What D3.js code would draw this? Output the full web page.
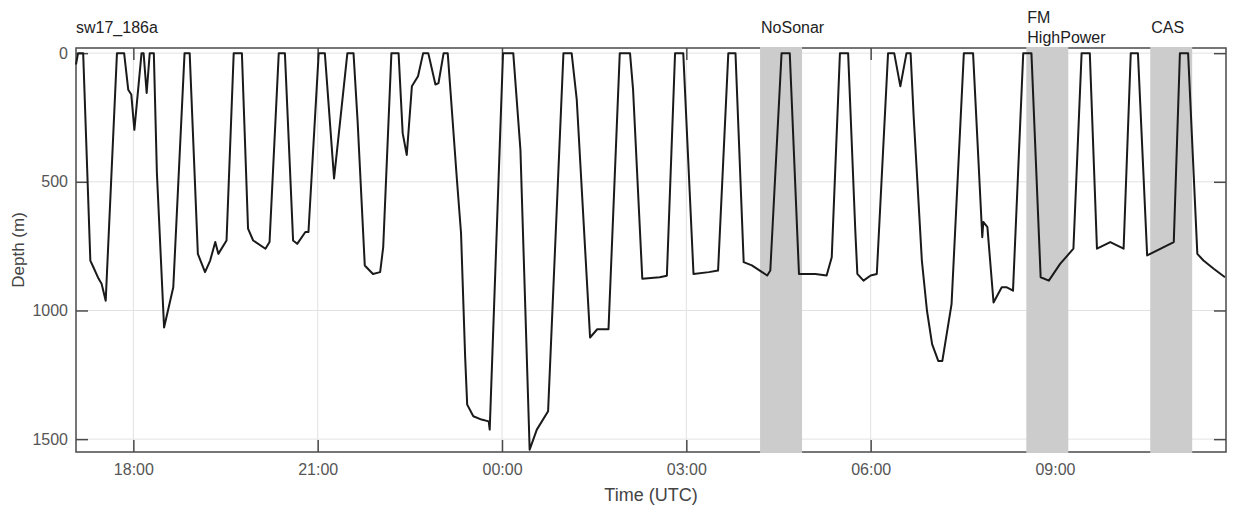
<!DOCTYPE html>
<html>
<head>
<meta charset="utf-8">
<script src="https://cdn.jsdelivr.net/npm/d3@7"></script>
<style>
  body { margin: 0; background: #fff; }
  text { font-family: "Liberation Sans", Arial, sans-serif; }
</style>
</head>
<body>
<div id="chart"></div>
<script>
// ---- données (profil de plongée sw17_186a) ----
// heures UTC, le passage à minuit est géré au parsing
const times = [
  "17:04","17:06","17:11","17:18","17:21","17:26","17:29","17:33","17:44","17:51",
  "17:55","17:58","18:01","18:08","18:10","18:13","18:16","18:20","18:23","18:30",
  "18:39","18:50","18:55","19:03","19:10","19:15","19:20","19:23","19:31","19:38",
  "19:46","19:52","19:57","20:09","20:13","20:22","20:28","20:36","20:40","20:48",
  "20:51","21:01","21:07","21:16","21:29","21:35","21:39","21:46","21:54","22:01",
  "22:04","22:12","22:19","22:23","22:27","22:32","22:38","22:43","22:48","22:55",
  "22:58","23:03","23:07","23:16","23:20","23:24","23:26","23:32","23:40","23:47",
  "23:48","00:01","00:11","00:18","00:27","00:34","00:45","01:00","01:08","01:13",
  "01:26","01:33","01:44","01:55","02:05","02:08","02:17","02:34","02:41","02:49",
  "02:57","03:07","03:22","03:31","03:41","03:48","03:56","04:04","04:14","04:19",
  "04:22","04:33","04:41","04:50","05:06","05:17","05:22","05:30","05:38","05:45",
  "05:47","05:53","06:00","06:06","06:17","06:23","06:29","06:35","06:39","06:42",
  "06:50","06:55","07:00","07:06","07:10","07:19","07:31","07:40","07:49","07:50",
  "07:54","08:00","08:08","08:13","08:19","08:29","08:37","08:46","08:54","09:05",
  "09:18","09:26","09:34","09:41","09:54","10:07","10:14","10:21","10:30","10:56",
  "11:02","11:10","11:19","11:25","11:35","11:46"
];
const depths = [
  44,0,0,806,832,876,896,962,0,0,
  142,161,298,0,0,155,0,0,466,1066,
  910,0,0,780,851,806,734,780,728,0,
  0,682,728,760,734,0,0,728,741,695,
  695,0,0,487,0,0,265,825,858,851,
  754,0,0,311,396,129,90,0,0,122,
  116,0,0,493,700,1180,1366,1411,1424,1431,
  1463,0,0,376,1541,1463,1392,0,0,181,
  1105,1073,1073,0,0,142,877,871,865,0,
  0,858,851,845,0,0,812,825,851,864,
  845,0,0,858,858,864,793,0,0,689,
  858,884,864,858,0,0,129,0,0,246,
  806,1001,1131,1196,1196,975,0,0,715,656,
  676,969,910,910,923,0,0,871,884,819,
  760,0,0,760,734,760,0,0,786,734,
  0,0,780,806,838,871
];

// périodes d'exposition (zones grisées)
const shadeLabels = [["NoSonar"], ["FM", "HighPower"], ["CAS"]];
const shadeStart = ["04:12", "08:32", "10:33"];
const shadeEnd = ["04:53", "09:13", "11:14"];

const yTicks = [0, 500, 1000, 1500];
const title = "sw17_186a";

// ---- dimensions ----
const width = 1233, height = 510;
const margin = {top: 48, right: 7, bottom: 58, left: 76};

const parseT = d3.utcParse("%Y-%m-%d %H:%M");
// conversion HH:MM -> date (jour suivant si heure < 17h)
function toDate(s) {
  const h = +s.split(":")[0];
  return parseT((h < 17 ? "2017-07-06 " : "2017-07-05 ") + s);
}

const data = times.map((t, i) => ({t: toDate(t), d: depths[i]}));

const x = d3.scaleUtc()
  .domain([toDate("17:04"), toDate("11:47")])
  .range([margin.left, width - margin.right]);

const y = d3.scaleLinear()
  .domain([-20, 1550])
  .range([margin.top, height - margin.bottom]);

const svg = d3.select("#chart").append("svg")
  .attr("width", width)
  .attr("height", height);

const x0 = margin.left, x1 = width - margin.right;
const y0 = margin.top, y1 = height - margin.bottom;
const hourTicks = x.ticks(d3.utcHour.every(3));

// grille
const grid = svg.append("g").attr("stroke", "#e2e2e2").attr("stroke-width", 1);
grid.selectAll(".gx").data(hourTicks).enter().append("line")
  .attr("x1", d => x(d)).attr("x2", d => x(d))
  .attr("y1", y0).attr("y2", y1);
grid.selectAll(".gy").data(yTicks).enter().append("line")
  .attr("x1", x0).attr("x2", x1)
  .attr("y1", d => y(d)).attr("y2", d => y(d));

// cadre + graduations vers l'intérieur (style matlab)
const axisCol = "#4a4a4a";
svg.append("rect")
  .attr("x", x0).attr("y", y0)
  .attr("width", x1 - x0).attr("height", y1 - y0)
  .attr("fill", "none").attr("stroke", axisCol).attr("stroke-width", 1.5);

const axB = svg.append("g").attr("transform", `translate(0,${y1})`)
  .call(d3.axisBottom(x).tickValues(hourTicks).tickFormat(d3.utcFormat("%H:%M")).tickSizeInner(-12).tickSizeOuter(0).tickPadding(12));
const axT = svg.append("g").attr("transform", `translate(0,${y0})`)
  .call(d3.axisTop(x).tickValues(hourTicks).tickFormat("").tickSizeInner(-12).tickSizeOuter(0));
const axL = svg.append("g").attr("transform", `translate(${x0},0)`)
  .call(d3.axisLeft(y).tickValues(yTicks).tickFormat(d3.format("d")).tickSizeInner(-12).tickSizeOuter(0).tickPadding(20));
const axR = svg.append("g").attr("transform", `translate(${x1},0)`)
  .call(d3.axisRight(y).tickValues(yTicks).tickFormat("").tickSizeInner(-12).tickSizeOuter(0));

[axB, axT, axL, axR].forEach(a => {
  a.select(".domain").remove();
  a.selectAll(".tick line").attr("stroke", axisCol).attr("stroke-width", 1.5);
  a.selectAll(".tick text")
    .attr("fill", "#555")
    .style("font-size", "16px")
    .style("font-family", "Liberation Sans, Arial, sans-serif");
});
axL.selectAll(".tick text").attr("dx", 12);

// zones grisées (par-dessus le cadre, sous la courbe)
const shades = shadeStart.map((s, i) => ({a: toDate(s), b: toDate(shadeEnd[i]), lab: shadeLabels[i]}));
svg.append("g").selectAll("rect").data(shades).enter().append("rect")
  .attr("x", d => x(d.a))
  .attr("y", y0 - 1)
  .attr("width", d => x(d.b) - x(d.a))
  .attr("height", y1 - y0 + 2)
  .attr("fill", "#cccccc");

// étiquettes des zones
const labs = svg.append("g").selectAll("text").data(shades).enter().append("text")
  .attr("x", d => x(d.a) + 1)
  .attr("y", d => d.lab.length > 1 ? 23 : 33)
  .attr("fill", "#222")
  .style("font-size", "16px");
labs.selectAll("tspan").data(d => d.lab).enter().append("tspan")
  .attr("x", function() { return d3.select(this.parentNode).attr("x"); })
  .attr("dy", (d, i) => i === 0 ? 0 : 20)
  .text(d => d);

// courbe de profondeur
const line = d3.line().x(d => x(d.t)).y(d => y(d.d));
svg.append("path")
  .datum(data)
  .attr("d", line)
  .attr("fill", "none")
  .attr("stroke", "#1a1a1a")
  .attr("stroke-width", 2)
  .attr("stroke-linejoin", "round");

// titres
svg.append("text").attr("x", x0).attr("y", 33)
  .attr("fill", "#222").style("font-size", "16px").text(title);

svg.append("text")
  .attr("x", (x0 + x1) / 2).attr("y", 501)
  .attr("text-anchor", "middle")
  .attr("fill", "#444").style("font-size", "18px")
  .text("Time (UTC)");

svg.append("text")
  .attr("transform", `translate(24,${(y0 + y1) / 2}) rotate(-90)`)
  .attr("text-anchor", "middle")
  .attr("fill", "#444").style("font-size", "17px")
  .text("Depth (m)");
</script>
</body>
</html>
